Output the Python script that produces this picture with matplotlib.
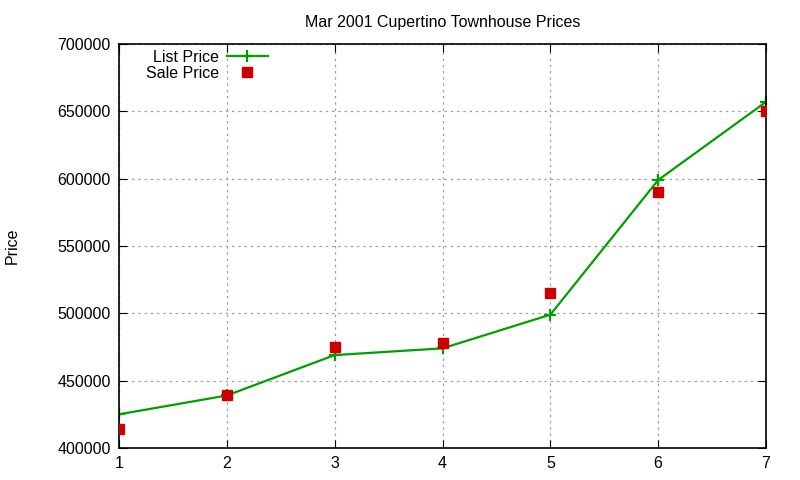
import matplotlib

matplotlib.use("Agg")
import matplotlib.pyplot as plt

months = [1, 2, 3, 4, 5, 6, 7]
list_price = [425000, 439000, 469000, 474000, 499000, 599000, 657000]
sale_price = [414000, 439500, 475000, 478000, 515000, 590000, 650000]
yticks = [400000, 450000, 500000, 550000, 600000, 650000, 700000]

plt.rcParams["font.family"] = ["Liberation Sans", "DejaVu Sans"]

fig = plt.figure(figsize=(8, 4.8), dpi=100)
ax = fig.add_axes([119 / 800, 1 - 448 / 480, (766 - 119) / 800, (448 - 44) / 480])

ax.plot(months, list_price, color="#00a000", linewidth=1.6, marker="+",
        markersize=9, markeredgewidth=1.6, label="List Price")
ax.plot(months, sale_price, linestyle="none", color="#cc0000", marker="s",
        markersize=6.5, label="Sale Price", zorder=3)

ax.set_xlim(1, 7)
ax.set_ylim(400000, 700000)
ax.set_xticks(months)
ax.set_yticks(yticks)
ax.tick_params(direction="in", top=True, right=True, labelsize=11.5, length=6, pad=6)
ax.grid(True, linestyle=(0, (2, 3)), color="#a0a0a0", linewidth=0.9)
for s in ax.spines.values():
    s.set_linewidth(1.2)

ax.set_title("Mar 2001 Cupertino Townhouse Prices", fontsize=11.5, pad=12)
fig.text(12 / 800, 1 - 246 / 480, "Price", rotation=90, ha="center",
         va="center", fontsize=11.5)

ax.legend(loc="upper left", frameon=False, markerfirst=False, fontsize=11.5,
          handlelength=2.6, handletextpad=0.45, borderaxespad=0.3,
          labelspacing=0.05, bbox_to_anchor=(0.025, 1.013))

fig.savefig("out.png", dpi=100)
